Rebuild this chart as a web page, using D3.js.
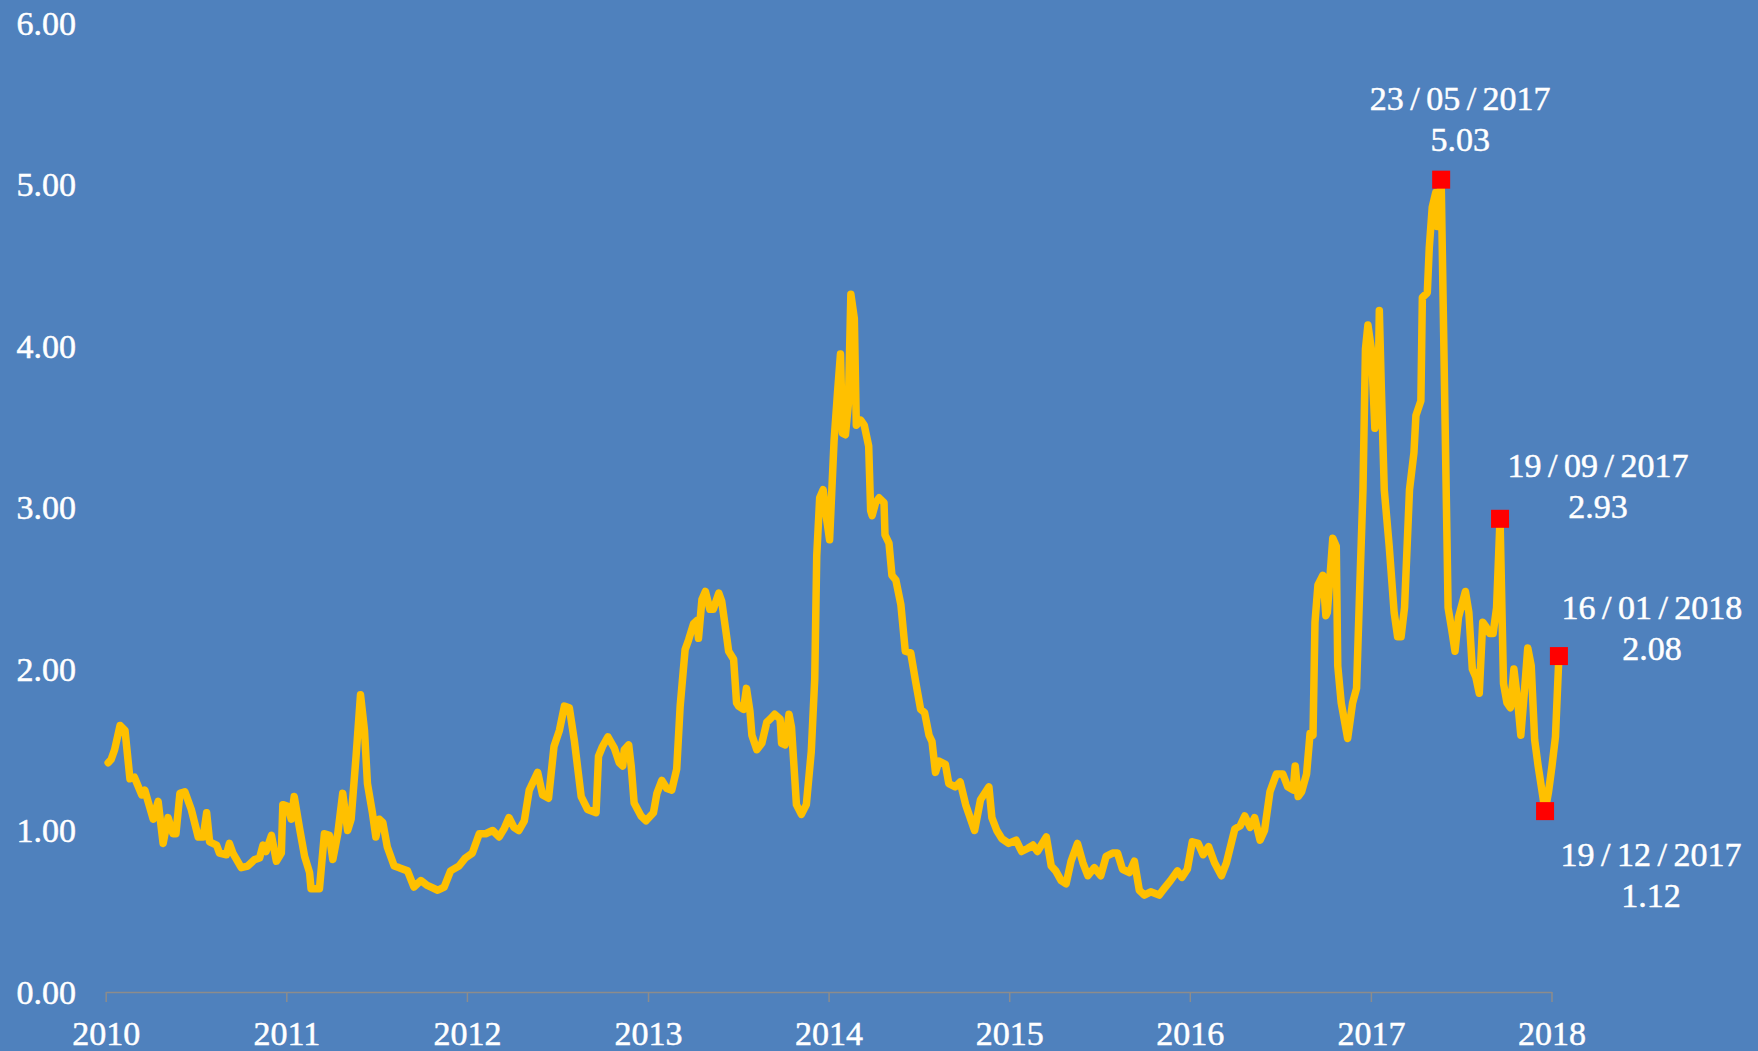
<!DOCTYPE html>
<html>
<head>
<meta charset="utf-8">
<script src="https://cdn.jsdelivr.net/npm/d3@7"></script>
<style>
html, body { margin: 0; padding: 0; background: #4f81bd; }
svg { display: block; }
</style>
</head>
<body>
<svg width="1758" height="1051"></svg>
<script>
const yTicks = [0, 1, 2, 3, 4, 5, 6];
const yearTicks = [2010, 2011, 2012, 2013, 2014, 2015, 2016, 2017, 2018];

// weekly values
const series = [
  ["2010-01-06",1.42],["2010-01-12",1.44],["2010-01-19",1.50],["2010-01-30",1.65],["2010-02-09",1.62],
  ["2010-02-19",1.32],["2010-02-28",1.33],["2010-03-15",1.22],["2010-03-21",1.25],["2010-04-07",1.07],
  ["2010-04-17",1.18],["2010-04-27",0.92],["2010-05-07",1.08],["2010-05-17",0.98],["2010-05-23",0.98],
  ["2010-05-31",1.23],["2010-06-10",1.24],["2010-06-23",1.13],["2010-07-07",0.96],["2010-07-17",0.96],
  ["2010-07-24",1.11],["2010-07-30",0.93],["2010-08-13",0.91],["2010-08-19",0.86],["2010-09-02",0.85],
  ["2010-09-08",0.92],["2010-09-15",0.86],["2010-10-02",0.77],["2010-10-15",0.78],["2010-10-29",0.82],
  ["2010-11-08",0.83],["2010-11-15",0.91],["2010-11-21",0.87],["2010-12-02",0.97],["2010-12-12",0.81],
  ["2010-12-22",0.86],["2010-12-25",1.16],["2011-01-04",1.15],["2011-01-11",1.07],["2011-01-17",1.21],
  ["2011-01-28",1.01],["2011-02-07",0.84],["2011-02-17",0.74],["2011-02-20",0.64],["2011-03-09",0.64],
  ["2011-03-19",0.98],["2011-03-29",0.97],["2011-04-05",0.82],["2011-04-15",0.98],["2011-04-25",1.23],
  ["2011-05-05",1.00],["2011-05-12",1.07],["2011-05-22",1.46],["2011-05-31",1.84],["2011-06-08",1.62],
  ["2011-06-14",1.29],["2011-06-24",1.11],["2011-07-01",0.96],["2011-07-08",1.07],["2011-07-15",1.05],
  ["2011-07-24",0.90],["2011-08-07",0.78],["2011-08-17",0.77],["2011-09-03",0.75],["2011-09-16",0.65],
  ["2011-09-30",0.69],["2011-10-13",0.66],["2011-11-03",0.63],["2011-11-16",0.65],["2011-11-29",0.75],
  ["2011-12-16",0.78],["2011-12-29",0.83],
  ["2012-01-12",0.86],["2012-01-26",0.98],["2012-02-08",0.98],["2012-02-22",1.00],["2012-03-06",0.96],
  ["2012-03-16",1.01],["2012-03-26",1.08],["2012-04-05",1.02],["2012-04-15",1.00],["2012-04-26",1.06],
  ["2012-05-06",1.25],["2012-05-23",1.36],["2012-06-02",1.22],["2012-06-14",1.20],["2012-06-25",1.52],
  ["2012-07-06",1.62],["2012-07-16",1.77],["2012-07-26",1.76],["2012-08-05",1.56],["2012-08-19",1.21],
  ["2012-09-01",1.13],["2012-09-18",1.11],["2012-09-23",1.46],["2012-10-01",1.52],["2012-10-12",1.58],
  ["2012-10-25",1.51],["2012-11-04",1.42],["2012-11-11",1.40],["2012-11-14",1.50],["2012-11-23",1.53],
  ["2012-11-28",1.40],["2012-12-04",1.17],["2012-12-18",1.09],["2012-12-28",1.06],
  ["2013-01-12",1.11],["2013-01-19",1.23],["2013-01-29",1.31],["2013-02-08",1.26],["2013-02-18",1.25],
  ["2013-02-28",1.38],["2013-03-07",1.77],["2013-03-17",2.12],["2013-03-24",2.18],["2013-04-03",2.28],
  ["2013-04-10",2.30],["2013-04-13",2.19],["2013-04-20",2.43],["2013-04-27",2.48],["2013-05-06",2.37],
  ["2013-05-13",2.37],["2013-05-24",2.47],["2013-05-30",2.42],["2013-06-09",2.20],["2013-06-13",2.11],
  ["2013-06-23",2.06],["2013-06-29",1.79],["2013-07-03",1.77],["2013-07-13",1.75],["2013-07-19",1.88],
  ["2013-07-26",1.74],["2013-07-30",1.59],["2013-08-09",1.50],["2013-08-19",1.54],["2013-08-29",1.67],
  ["2013-09-05",1.69],["2013-09-14",1.72],["2013-09-25",1.69],["2013-09-28",1.54],["2013-10-05",1.53],
  ["2013-10-13",1.72],["2013-10-18",1.64],["2013-10-28",1.16],["2013-11-07",1.10],["2013-11-17",1.16],
  ["2013-11-27",1.49],["2013-12-04",1.94],["2013-12-08",2.70],["2013-12-14",3.06],["2013-12-21",3.11],
  ["2013-12-27",2.95],["2014-01-03",2.80],
  ["2014-01-12",3.41],["2014-01-19",3.71],["2014-01-25",3.95],["2014-01-29",3.46],["2014-02-04",3.45],
  ["2014-02-10",3.64],["2014-02-15",4.32],["2014-02-22",4.17],["2014-02-26",3.51],["2014-03-07",3.54],
  ["2014-03-14",3.51],["2014-03-23",3.38],["2014-03-27",2.98],["2014-03-30",2.95],["2014-04-06",3.03],
  ["2014-04-13",3.06],["2014-04-23",3.03],["2014-04-25",2.83],["2014-05-03",2.78],["2014-05-09",2.58],
  ["2014-05-17",2.55],["2014-05-27",2.40],["2014-06-05",2.11],["2014-06-16",2.10],["2014-06-26",1.92],
  ["2014-07-06",1.75],["2014-07-14",1.73],["2014-07-23",1.59],["2014-07-29",1.55],["2014-08-05",1.36],
  ["2014-08-12",1.43],["2014-08-25",1.41],["2014-09-01",1.29],["2014-09-14",1.27],["2014-09-24",1.30],
  ["2014-10-05",1.16],["2014-10-23",1.00],["2014-11-04",1.19],["2014-11-21",1.27],["2014-11-27",1.08],
  ["2014-12-07",1.00],["2014-12-17",0.95],["2014-12-31",0.92],
  ["2015-01-15",0.94],["2015-01-26",0.87],["2015-02-08",0.89],["2015-02-18",0.91],["2015-02-27",0.87],
  ["2015-03-17",0.96],["2015-03-27",0.78],["2015-04-05",0.75],["2015-04-16",0.69],["2015-04-26",0.67],
  ["2015-05-06",0.81],["2015-05-19",0.92],["2015-05-30",0.80],["2015-06-09",0.72],["2015-06-22",0.77],
  ["2015-07-05",0.72],["2015-07-16",0.84],["2015-07-29",0.86],["2015-08-08",0.86],["2015-08-18",0.76],
  ["2015-09-01",0.74],["2015-09-11",0.81],["2015-09-21",0.63],["2015-10-01",0.60],["2015-10-14",0.62],
  ["2015-10-31",0.60],["2015-11-10",0.64],["2015-11-23",0.69],["2015-12-07",0.75],["2015-12-16",0.71],
  ["2015-12-27",0.76],["2016-01-06",0.93],
  ["2016-01-18",0.92],["2016-01-28",0.85],["2016-02-08",0.90],["2016-02-20",0.80],["2016-03-05",0.72],
  ["2016-03-15",0.80],["2016-04-01",1.01],["2016-04-12",1.03],["2016-04-21",1.09],["2016-05-02",1.02],
  ["2016-05-11",1.08],["2016-05-22",0.94],["2016-05-31",1.00],["2016-06-11",1.24],["2016-06-24",1.35],
  ["2016-07-07",1.35],["2016-07-17",1.27],["2016-07-28",1.25],["2016-08-01",1.40],["2016-08-07",1.21],
  ["2016-08-14",1.24],["2016-08-24",1.35],["2016-08-31",1.60],["2016-09-06",1.59],["2016-09-10",2.29],
  ["2016-09-16",2.52],["2016-09-26",2.58],["2016-10-02",2.33],["2016-10-05",2.35],["2016-10-16",2.81],
  ["2016-10-23",2.76],["2016-10-26",2.02],["2016-11-02",1.79],["2016-11-15",1.57],["2016-11-25",1.79],
  ["2016-12-03",1.88],["2016-12-09",2.46],["2016-12-16",3.11],["2016-12-21",3.98],["2016-12-26",4.13],
  ["2017-01-02",3.98],["2017-01-09",3.49],["2017-01-15",3.57],["2017-01-18",4.22],["2017-01-22",3.75],
  ["2017-01-28",3.11],["2017-02-07",2.76],["2017-02-17",2.35],["2017-02-24",2.20],["2017-03-03",2.20],
  ["2017-03-10",2.38],["2017-03-20",3.11],["2017-03-29",3.34],["2017-04-02",3.57],["2017-04-12",3.66],
  ["2017-04-15",4.30],["2017-04-25",4.33],["2017-04-29",4.61],["2017-05-05",4.86],["2017-05-12",4.95],
  ["2017-05-15",4.74],["2017-05-23",5.03],["2017-06-06",2.38],["2017-06-13",2.25],["2017-06-20",2.11],
  ["2017-06-27",2.32],["2017-07-04",2.40],["2017-07-11",2.48],["2017-07-18",2.35],["2017-07-25",2.00],
  ["2017-08-01",1.95],["2017-08-08",1.85],["2017-08-15",2.29],["2017-08-22",2.26],["2017-08-29",2.22],
  ["2017-09-05",2.22],["2017-09-12",2.38],["2017-09-19",2.93],["2017-09-26",1.91],["2017-10-03",1.79],
  ["2017-10-10",1.76],["2017-10-17",2.00],["2017-10-24",1.82],["2017-10-31",1.59],["2017-11-07",1.85],
  ["2017-11-14",2.13],["2017-11-21",2.02],["2017-11-28",1.56],["2017-12-05",1.40],["2017-12-12",1.26],
  ["2017-12-19",1.12],["2017-12-26",1.24],["2018-01-02",1.40],["2018-01-09",1.58],["2018-01-16",2.08]
];

const highlightDates = ["2017-05-23", "2017-09-19", "2018-01-16", "2017-12-19"];
const highlightLabels = ["23 / 05 / 2017", "19 / 09 / 2017", "16 / 01 / 2018", "19 / 12 / 2017"];

// where each label sits relative to its marker (dx, baseline of first line)
const labelOffsets = [[19, -70], [98, -42], [93, -37], [106, 55]];

function draw() {
    let svg = d3.select("svg");
    const parse = d3.timeParse("%Y-%m-%d");
    const fontFamily = "'Liberation Serif', 'DejaVu Serif', serif";
    const fontSize = 34;

    let data = series.map(d => ({date: parse(d[0]), value: d[1]}));

    let x = d3.scaleTime()
        .domain([new Date(2010, 0, 1), new Date(2018, 0, 1)])
        .range([105.7, 1551.5]);

    let y = d3.scaleLinear()
        .domain([0, 6])
        .range([992, 23]);

    // y axis: labels only
    let yAxis = svg.append("g")
        .attr("transform", "translate(86,0)")
        .call(d3.axisLeft(y)
            .tickValues(yTicks)
            .tickFormat(d3.format(".2f"))
            .tickSize(0)
            .tickPadding(10));
    yAxis.select(".domain").remove();
    yAxis.selectAll("text")
        .attr("font-family", fontFamily)
        .attr("font-size", fontSize)
        .attr("fill", "#fff")
        .attr("stroke", "#fff")
        .attr("stroke-width", 0.5)
        .attr("dy", "0.33em");

    let xAxis = svg.append("g")
        .attr("transform", `translate(0,${y(0)})`)
        .call(d3.axisBottom(x)
            .tickValues(yearTicks.map(yr => new Date(yr, 0, 1)))
            .tickFormat(d3.timeFormat("%Y"))
            .tickSizeInner(10)
            .tickSizeOuter(0)
            .tickPadding(19));
    xAxis.select(".domain")
        .attr("stroke", "#8c8c8c")
        .attr("stroke-width", 1.5);
    xAxis.selectAll(".tick line")
        .attr("stroke", "#8c8c8c")
        .attr("stroke-width", 1.5);
    xAxis.selectAll("text")
        .attr("font-family", fontFamily)
        .attr("font-size", fontSize)
        .attr("fill", "#fff")
        .attr("stroke", "#fff")
        .attr("stroke-width", 0.5);

    let line = d3.line()
        .x(d => x(d.date))
        .y(d => y(d.value));

    svg.append("path")
        .datum(data)
        .attr("fill", "none")
        .attr("stroke", "#ffc000")
        .attr("stroke-width", 7.5)
        .attr("stroke-linejoin", "round")
        .attr("stroke-linecap", "round")
        .attr("d", line);

    let marks = highlightDates.map((s, i) => {
        let d = data.find(p => +p.date === +parse(s));
        return {date: d.date, value: d.value, label: highlightLabels[i], off: labelOffsets[i]};
    });

    svg.selectAll(".marker")
        .data(marks)
        .enter()
        .append("rect")
        .attr("class", "marker")
        .attr("x", d => x(d.date) - 9)
        .attr("y", d => y(d.value) - 9)
        .attr("width", 18)
        .attr("height", 18)
        .attr("fill", "#ff0000");

    let labels = svg.selectAll(".hl-label")
        .data(marks)
        .enter()
        .append("g")
        .attr("class", "hl-label")
        .attr("transform", d => `translate(${x(d.date) + d.off[0]},${y(d.value) + d.off[1]})`)
        .attr("font-family", fontFamily)
        .attr("font-size", fontSize)
        .attr("fill", "#fff")
        .attr("stroke", "#fff")
        .attr("stroke-width", 0.5)
        .attr("text-anchor", "middle");

    labels.append("text")
        .attr("word-spacing", -2)
        .text(d => d.label);
    labels.append("text")
        .attr("y", 41)
        .text(d => d.value.toFixed(2));
}

draw();
</script>
</body>
</html>
